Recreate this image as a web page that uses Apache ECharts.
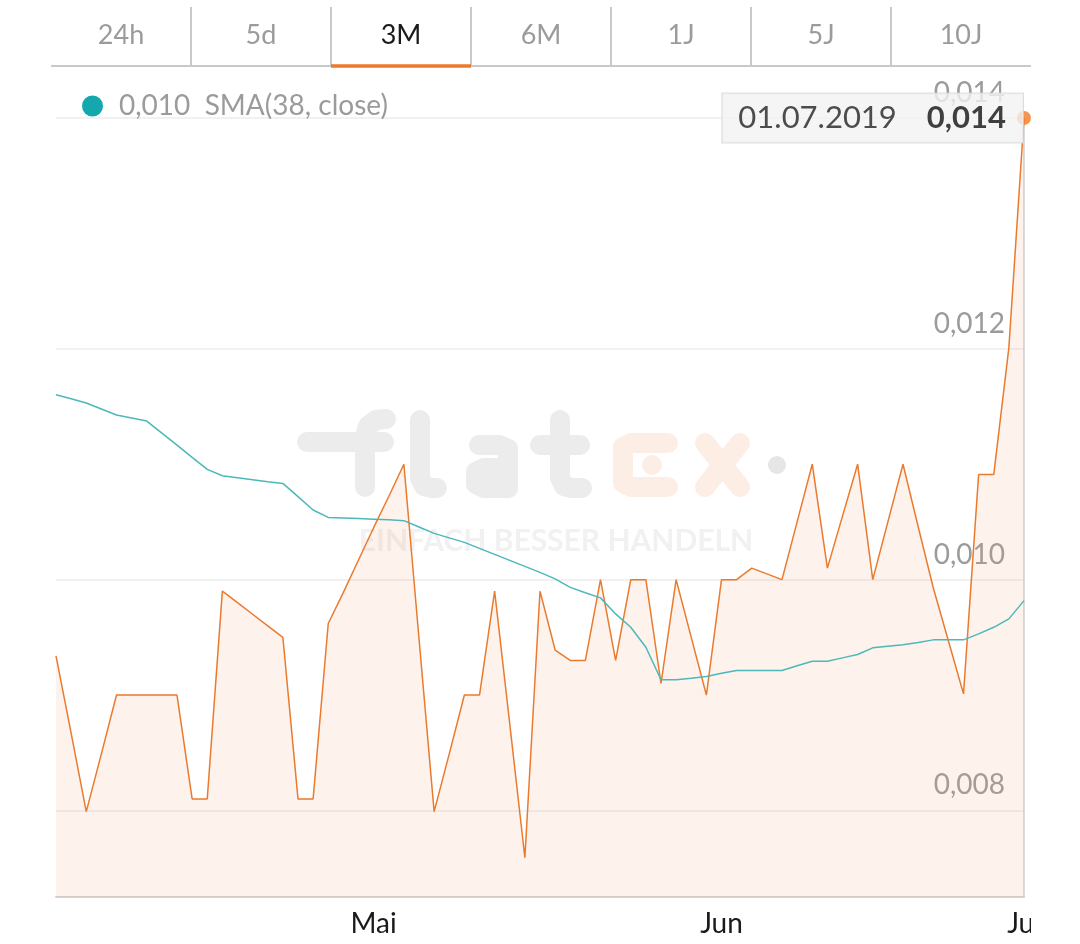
<!DOCTYPE html>
<html>
<head>
<meta charset="utf-8">
<script src="https://cdn.jsdelivr.net/npm/echarts@6/dist/echarts.min.js"></script>
<style>
html,body{margin:0;padding:0;background:#fff;overflow:hidden;}
#chart{width:1031px;height:944px;}
</style>
</head>
<body>
<div id="chart"></div>
<script>
// ---------- data ----------
const categories = [
  '01.04.2019','02.04.2019','03.04.2019','04.04.2019','05.04.2019','08.04.2019','09.04.2019','10.04.2019',
  '11.04.2019','12.04.2019','15.04.2019','16.04.2019','17.04.2019','18.04.2019','22.04.2019','23.04.2019',
  '24.04.2019','25.04.2019','26.04.2019','29.04.2019','30.04.2019',
  '01.05.2019','02.05.2019','03.05.2019','06.05.2019','07.05.2019','08.05.2019','09.05.2019','10.05.2019',
  '13.05.2019','14.05.2019','15.05.2019','16.05.2019','17.05.2019','20.05.2019','21.05.2019','22.05.2019',
  '23.05.2019','24.05.2019','27.05.2019','28.05.2019','29.05.2019','30.05.2019','31.05.2019',
  '03.06.2019','04.06.2019','05.06.2019','06.06.2019','07.06.2019','10.06.2019','11.06.2019','12.06.2019',
  '13.06.2019','14.06.2019','17.06.2019','18.06.2019','19.06.2019','20.06.2019','21.06.2019','24.06.2019',
  '25.06.2019','26.06.2019','27.06.2019','28.06.2019',
  '01.07.2019'
];
const closeValues = [
  0.00934,0.00867,0.00799,0.00849,0.00900,0.00900,0.00900,0.00900,
  0.00900,0.00810,0.00810,0.00990,0.00980,0.00970,0.00960,0.00950,
  0.00810,0.00810,0.00962,0.00989,0.01017,
  0.01045,0.01072,0.01100,0.00949,0.00799,0.00849,0.00900,0.00900,
  0.00990,0.00875,0.00759,0.00990,0.00939,0.00930,0.00930,0.01000,
  0.00930,0.01000,0.01000,0.00910,0.01000,0.00950,0.00900,
  0.01000,0.01000,0.01010,0.01005,0.01000,0.01050,0.01100,0.01010,
  0.01055,0.01100,0.01000,0.01050,0.01100,0.01046,0.00993,0.00947,
  0.00901,0.01091,0.01091,0.01201,
  0.01400
];
const smaValues = [
  0.011602,0.011567,0.011530,0.011478,0.011426,0.011400,0.011374,0.011269,
  0.011165,0.011060,0.010955,0.010900,0.010883,0.010866,0.010848,0.010834,
  0.010719,0.010603,0.010539,0.010534,0.010529,
  0.010524,0.010519,0.010511,0.010456,0.010401,0.010362,0.010323,0.010271,
  0.010219,0.010167,0.010115,0.010063,0.010006,0.009933,0.009887,0.009842,
  0.009703,0.009587,0.009414,0.009132,0.009132,0.009145,0.009160,
  0.009189,0.009212,0.009212,0.009212,0.009212,0.009253,0.009293,0.009293,
  0.009322,0.009351,0.009409,0.009422,0.009435,0.009456,0.009478,0.009478,
  0.009478,0.009530,0.009587,0.009660,
  0.009818
];
const tabs = ['24h','5d','3M','6M','1J','5J','10J'];
const activeTab = '3M';
const monthNames = ['Jan','Feb','Mär','Apr','Mai','Jun','Jul','Aug','Sep','Okt','Nov','Dez'];
const smaLabel = 'SMA(38, close)';
const watermarkSub = 'EINFACH BESSER HANDELN';

// ---------- helpers ----------
const FONT = 'Lato, "Open Sans", sans-serif';
const fmt = v => v.toFixed(3).replace('.', ',');
const monthOf = s => parseInt(s.slice(3, 5), 10);
const last = closeValues.length - 1;

// ---------- tabs (graphic) ----------
const tabLeft = 51, tabRight = 1031, tabY = 66;
const tabW = (tabRight - tabLeft) / tabs.length;
const graphics = [];
graphics.push({type:'line', shape:{x1:tabLeft, y1:tabY, x2:tabRight, y2:tabY},
  style:{stroke:'#c9c9c9', lineWidth:2}, z:10});
tabs.forEach((t, i) => {
  const x0 = tabLeft + i * tabW;
  if (i > 0) graphics.push({type:'line', shape:{x1:x0, y1:7, x2:x0, y2:tabY},
    style:{stroke:'#c9c9c9', lineWidth:2}, z:10});
  graphics.push({type:'text', x:x0 + tabW/2, y:35, z:11,
    style:{text:t, fontSize:27, fontFamily:FONT, fill: t === activeTab ? '#1a1a1a' : '#9b9b9b',
      align:'center', verticalAlign:'middle'}});
  if (t === activeTab) graphics.push({type:'line', shape:{x1:x0, y1:tabY, x2:x0 + tabW, y2:tabY},
    style:{stroke:'#ec7a2b', lineWidth:3.5}, z:12});
});

// ---------- watermark (graphic) ----------
const wmGray = {stroke:'#ececec', lineWidth:20, lineCap:'round', lineJoin:'round', fill:null};
const wmPeach = {stroke:'#fdeee5', lineWidth:20, lineCap:'round', lineJoin:'round', fill:null};
const poly = (pts, st) => ({type:'polyline', shape:{points:pts}, style:Object.assign({}, st), z:0, silent:true});
graphics.push(poly([[307,442],[384,442]], wmGray));
graphics.push(poly([[365,487],[365,436],[368,426],[376,420],[386,419]], wmGray));
graphics.push(poly([[420,420],[420,478],[424,486],[432,488],[437,488]], wmGray));
graphics.push(poly([[479,445],[499,445],[508,449],[508,458],[508,488]], wmGray));
graphics.push(poly([[508,468],[484,468],[476,472],[476,484],[484,488],[508,488]], wmGray));
graphics.push(poly([[560,420],[560,478],[564,486],[572,488],[582,488]], wmGray));
graphics.push(poly([[540,445],[580,445]], wmGray));
graphics.push(poly([[668,443],[631,443],[623,447],[623,483],[631,487],[668,487]], wmPeach));
graphics.push({type:'circle', shape:{cx:652, cy:465, r:10}, style:{fill:'#fdeee5'}, z:0, silent:true});
graphics.push(poly([[705,443],[740,487]], wmPeach));
graphics.push(poly([[740,443],[705,487]], wmPeach));
graphics.push({type:'circle', shape:{cx:777, cy:465, r:9}, style:{fill:'#e6e6e6'}, z:0, silent:true});
graphics.push({type:'text', x:556, y:541, z:0, silent:true,
  style:{text:watermarkSub, fontSize:30, fontWeight:'bold', fontFamily:FONT, fill:'#f1f1f1',
    align:'center', verticalAlign:'middle'}});

// ---------- chart ----------
const chart = echarts.init(document.getElementById('chart'), null, {renderer:'canvas'});
chart.setOption({
  animation:false,
  backgroundColor:'#ffffff',
  textStyle:{fontFamily:FONT},
  graphic:graphics,
  legend:{
    data:['SMA'], left:77, top:87, icon:'circle', itemWidth:21, itemHeight:21,
    selectedMode:false,
    formatter:() => fmt(smaValues[last]) + '  ' + smaLabel,
    textStyle:{fontSize:28, color:'#9b9b9b', fontFamily:FONT, padding:[0,0,0,11]}
  },
  grid:{left:56, right:7, top:118, bottom:47, containLabel:false, outerBoundsMode:'none'},
  xAxis:{
    type:'category', data:categories, boundaryGap:false,
    axisLine:{show:true, lineStyle:{color:'#d2d2d2', width:2}},
    axisTick:{show:false},
    splitLine:{show:false},
    axisLabel:{
      interval:(i) => i > 0 && monthOf(categories[i]) !== monthOf(categories[i-1]),
      formatter:(v) => monthNames[monthOf(v) - 1],
      fontSize:28, color:'#1a1a1a', fontFamily:FONT, margin:13
    }
  },
  yAxis:{
    type:'value', position:'right', min:0.00725, max:0.014, splitNumber:4, scale:true,
    axisLine:{show:true, lineStyle:{color:'#cfcfcf', width:1.5}},
    axisTick:{show:false},
    splitLine:{show:true, showMinLine:false, lineStyle:{color:'#ececec', width:1.5}},
    axisLabel:{
      inside:true, showMinLabel:false, margin:19, verticalAlign:'bottom', padding:[0,0,11,0],
      fontSize:28, color:'#9b9b9b', fontFamily:FONT, formatter:v => fmt(v)
    }
  },
  series:[
    {
      name:'Close', type:'line', data:closeValues, showSymbol:false, silent:true, z:2,
      lineStyle:{color:'#ea7a2e', width:1.5},
      itemStyle:{color:'#ea7a2e'},
      areaStyle:{color:'rgba(244,160,110,0.19)'}
    },
    {
      name:'SMA', type:'line', data:smaValues, showSymbol:false, silent:true, z:3,
      lineStyle:{color:'#4cb8b9', width:1.5},
      itemStyle:{color:'#14a7ad'}
    },
    {
      name:'Last', type:'scatter', z:6, silent:true,
      data:[[categories[last], closeValues[last]]],
      symbolSize:14, itemStyle:{color:'#f27b25'},
      label:{
        show:true, position:'left', distance:1, offset:[7,0],
        backgroundColor:'#f2f2f2', borderColor:'#d6d6d6', borderWidth:1,
        padding:[9,17,9,16],
        formatter:p => '{d|' + p.value[0] + '}{v|' + fmt(p.value[1]) + '}',
        rich:{
          d:{fontSize:31, color:'#222222', fontFamily:FONT},
          v:{fontSize:31, color:'#111111', fontWeight:'bold', fontFamily:FONT, padding:[0,0,0,30]}
        }
      }
    }
  ]
});
</script>
</body>
</html>
